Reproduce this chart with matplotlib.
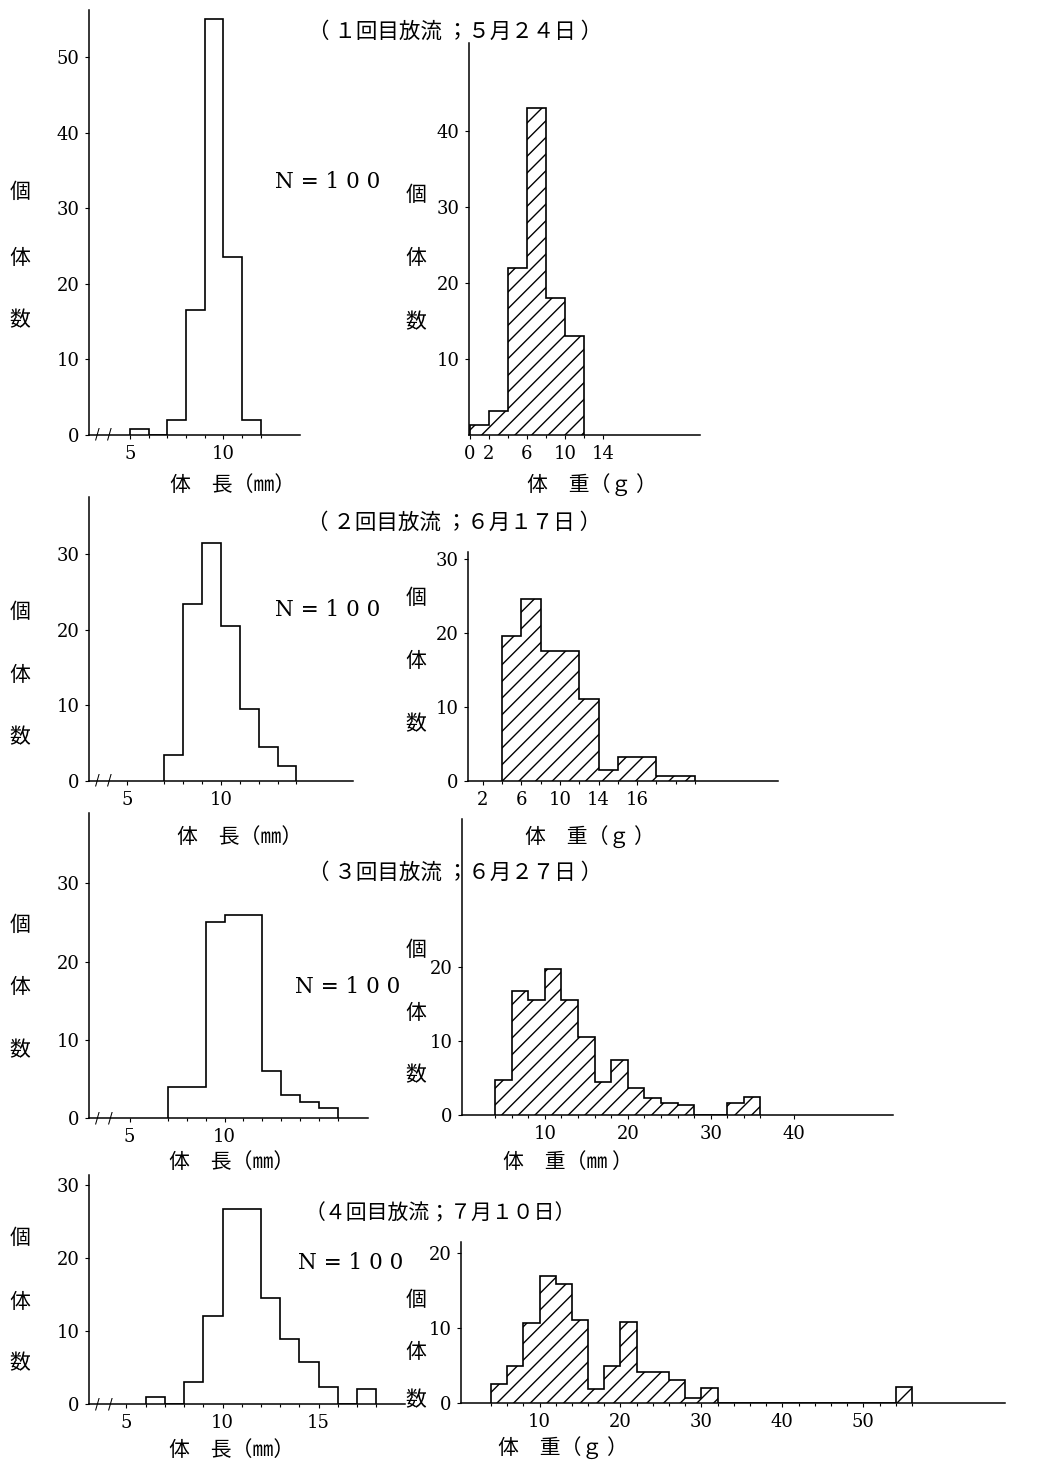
import matplotlib
matplotlib.use("Agg")
import matplotlib.pyplot as plt

plt.rcParams['font.family'] = ['DejaVu Serif']
CJK = ['Noto Sans CJK JP', 'DejaVu Sans']

W, H = 1037, 1466

# ---- data (counts) ----
len1_edges = [5, 6, 7, 8, 9, 10, 11, 12]
len1_counts = [0.8, 0, 2, 16.5, 55, 23.5, 2]
wt1_edges = [0, 2, 4, 6, 8, 10, 12]
wt1_counts = [1.3, 3.2, 22, 43, 18, 13]

len2_edges = [7, 8, 9, 10, 11, 12, 13, 14]
len2_counts = [3.5, 23.5, 31.5, 20.5, 9.5, 4.5, 2]
wt2_edges = [4, 6, 8, 10, 12, 14, 16, 18, 20, 22, 24]
wt2_counts = [19.5, 24.5, 17.5, 17.5, 11, 1.5, 3.3, 3.3, 0.7, 0.7]

len3_edges = [7, 8, 9, 10, 11, 12, 13, 14, 15, 16]
len3_counts = [4, 4, 25, 26, 26, 6, 3, 2, 1.3]
wt3_edges = [4, 6, 8, 10, 12, 14, 16, 18, 20, 22, 24, 26, 28, 30, 32, 34, 36]
wt3_counts = [4.7, 16.7, 15.6, 19.7, 15.6, 10.5, 4.4, 7.4, 3.6, 2.3, 1.6, 1.4, 0, 0, 1.6, 2.5]

len4_edges = [6, 7, 8, 9, 10, 11, 12, 13, 14, 15, 16, 17, 18]
len4_counts = [0.9, 0, 3, 12, 26.7, 26.7, 14.6, 8.9, 5.7, 2.3, 0, 2.1]
wt4_edges = [4, 6, 8, 10, 12, 14, 16, 18, 20, 22, 24, 26, 28, 30, 32, 34, 36,
             38, 40, 42, 44, 46, 48, 50, 52, 54, 56]
wt4_counts = [2.5, 4.9, 10.7, 17, 15.9, 11.1, 1.9, 4.9, 10.8, 4.2, 4.2, 3.1, 0.7, 2.0,
              0, 0, 0, 0, 0, 0, 0, 0, 0, 0, 0, 2.1]

titles = ["（ １回目放流 ；５月２４日 ）", "（ ２回目放流 ；６月１７日 ）",
          "（ ３回目放流 ；６月２７日 ）", "（４回目放流；７月１０日）"]
title_sizes = [15.5, 15.5, 15.5, 15]
len_label = "体　長（㎜）"
wt_labels = ["体　重（ｇ ）", "体　重（ｇ ）", "体　重（㎜ ）", "体　重（ｇ ）"]
n_label = "N = 1 0 0"

fig = plt.figure(figsize=(W / 100, H / 100), dpi=100)


def add_ax(x0, x1, ytop, ybot):
    return fig.add_axes([x0 / W, 1 - ybot / H, (x1 - x0) / W, (ybot - ytop) / H])


def txt(x, y, s, **kw):
    fig.text(x / W, 1 - y / H, s, **kw)


def style(ax):
    for s in ['top', 'right']:
        ax.spines[s].set_visible(False)
    for s in ['left', 'bottom']:
        ax.spines[s].set_linewidth(1.1)
    ax.tick_params(which='both', direction='out', width=0.8, labelsize=13, pad=4)
    ax.tick_params(which='major', length=3)
    ax.tick_params(which='minor', length=2.5)


# ---- panel geometry in pixels ----
left_boxes = [(89, 300, 10, 435), (89, 353, 497, 781), (89, 368, 813, 1118), (89, 405, 1175, 1404)]
left_xlim = [(2.8, 14.1), (3.0, 17.0), (2.86, 17.56), (3.05, 19.5)]
left_ytop = [56.2, 37.6, 39, 31.4]
left_yticks = [[0, 10, 20, 30, 40, 50], [0, 10, 20, 30], [0, 10, 20, 30], [0, 10, 20, 30]]
left_xticks = [[5, 10], [5, 10], [5, 10], [5, 10, 15]]
left_data = [(len1_edges, len1_counts), (len2_edges, len2_counts),
             (len3_edges, len3_counts), (len4_edges, len4_counts)]

right_boxes = [(469, 700, 43, 435), (468, 778, 552, 781), (462, 893, 819, 1115), (461, 1005, 1242, 1403)]
right_xlim = [(-0.1, 24.2), (0.47, 32.6), (0, 52), (0.3, 67.5)]
right_ytop = [51.6, 30.9, 40, 21.5]
right_yticks = [[10, 20, 30, 40], [0, 10, 20, 30], [0, 10, 20], [0, 10, 20]]
right_xticks = [[0, 2, 6, 10, 14], [2, 6, 10, 14, 18], [10, 20, 30, 40], [10, 20, 30, 40, 50]]
right_xticklabels = [["0", "2", "6", "10", "14"], ["2", "6", "10", "14", "16"],
                     ["10", "20", "30", "40"], ["10", "20", "30", "40", "50"]]
right_data = [(wt1_edges, wt1_counts), (wt2_edges, wt2_counts),
              (wt3_edges, wt3_counts), (wt4_edges, wt4_counts)]

for i in range(4):
    # body length histogram (outline only)
    ax = add_ax(*left_boxes[i])
    edges, counts = left_data[i]
    ax.stairs(counts, edges, baseline=0, fill=False, color='black', linewidth=1.2)
    ax.set_xlim(*left_xlim[i])
    ax.set_ylim(0, left_ytop[i])
    ax.set_yticks(left_yticks[i])
    ax.set_xticks(left_xticks[i])
    ax.set_xticks(edges, minor=True)
    style(ax)
    x0 = left_xlim[i][0]
    ax.text(x0 + 0.45, 0, '/', fontsize=10, ha='center', va='center')
    ax.text(x0 + 1.1, 0, '/', fontsize=10, ha='center', va='center')

    # body weight histogram (hatched)
    ax = add_ax(*right_boxes[i])
    edges, counts = right_data[i]
    ax.stairs(counts, edges, baseline=0, fill=True, facecolor='white',
              edgecolor='black', hatch='//', linewidth=1.2)
    ax.set_xlim(*right_xlim[i])
    ax.set_ylim(0, right_ytop[i])
    ax.set_yticks(right_yticks[i])
    ax.set_xticks(right_xticks[i])
    ax.set_xticklabels(right_xticklabels[i])
    ax.set_xticks(edges, minor=True)
    style(ax)

# ---- texts ----
title_pos = [(455, 32), (454, 523), (455, 873), (440, 1213)]
n_pos = [(275, 182), (275, 610), (295, 987), (298, 1263)]
ylab_left = [(192, 258, 320), (612, 675, 737), (925, 987, 1050), (1238, 1302, 1363)]
ylab_right = [(195, 258, 322), (598, 661, 724), (950, 1013, 1075), (1300, 1352, 1400)]
xlab_left = [(233, 485), (240, 837), (232, 1162), (232, 1450)]
xlab_right = [(592, 485), (590, 837), (568, 1162), (563, 1448)]

for i in range(4):
    txt(*title_pos[i], titles[i], family=CJK, fontsize=title_sizes[i], ha='center', va='center')
    txt(*n_pos[i], n_label, fontsize=15.5, ha='left', va='center')
    for ch, y in zip("個体数", ylab_left[i]):
        txt(20, y, ch, family=CJK, fontsize=15, ha='center', va='center')
    for ch, y in zip("個体数", ylab_right[i]):
        txt(416, y, ch, family=CJK, fontsize=15, ha='center', va='center')
    txt(*xlab_left[i], len_label, family=CJK, fontsize=15, ha='center', va='center')
    txt(*xlab_right[i], wt_labels[i], family=CJK, fontsize=15, ha='center', va='center')

fig.savefig("out.png", dpi=100, facecolor='white')
